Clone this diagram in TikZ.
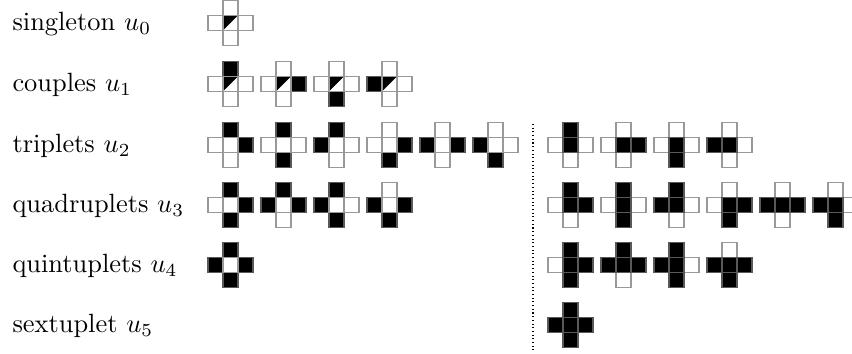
\documentclass[tikz,border=0pt]{standalone}
\usepackage{tikz}

\tikzset{
  cellw/.style={fill=white,draw=gray!80,line width=0.4pt},
  cellb/.style={fill=black,draw=gray!70!black,line width=0.4pt},
  cellh/.style={fill=white,draw=gray!80,line width=0.4pt,
    path picture={\fill[black] (path picture bounding box.north west) -- (path picture bounding box.north east) -- (path picture bounding box.south west) -- cycle;}},
  rowlabel/.style={anchor=base west,inner sep=0pt}
}

% one cross: x, y, centre, top, right, bottom, left  (w, b or h)
\newcommand{\crossat}[7]{%
  \begin{scope}[shift={(#1,#2)}]
    \draw[cell#4] (-7.5,-22.5) rectangle (7.5,-7.5);
    \draw[cell#5] (7.5,-7.5) rectangle (22.5,7.5);
    \draw[cell#6] (-7.5,7.5) rectangle (7.5,22.5);
    \draw[cell#7] (-22.5,-7.5) rectangle (-7.5,7.5);
    \draw[cell#3] (-7.5,-7.5) rectangle (7.5,7.5);
  \end{scope}}

\begin{document}
\begin{tikzpicture}[x=0.3788pt,y=-0.3788pt]
    \useasboundingbox (0,0) rectangle (852,354);

    % labels
    \node[rowlabel] (lsingle) at (12,31) {singleton $u_0$};
    \node[rowlabel] (lcouple) at (12,92) {couples $u_1$};
    \node[rowlabel] (ltriple) at (12,153) {triplets $u_2$};
    \node[rowlabel] (lquad) at (12,213) {quadruplets $u_3$};
    \node[rowlabel] (lquint) at (12,273) {quintuplets $u_4$};
    \node[rowlabel] (lsext) at (12,333) {sextuplet $u_5$};

    \draw[densely dotted] (533,124) -- (533,352);

    % singleton and couples
    \crossat{230.5}{23}{h}{w}{w}{w}{w}
    \foreach \t/\r/\b/\l [count=\i from 0] in {b/w/w/w,w/b/w/w,w/w/b/w,w/w/w/b}
      \crossat{230.5+53*\i}{84}{h}{\t}{\r}{\b}{\l};

    % triplets
    \foreach \t/\r/\b/\l [count=\i from 0] in {b/b/w/w,b/w/b/w,b/w/w/b,w/b/b/w,w/b/w/b,w/w/b/b}
      \crossat{230.5+53*\i}{145}{w}{\t}{\r}{\b}{\l};
    \foreach \t/\r/\b/\l [count=\i from 0] in {b/w/w/w,w/b/w/w,w/w/b/w,w/w/w/b}
      \crossat{570.5+53*\i}{145}{b}{\t}{\r}{\b}{\l};

    % quadruplets
    \foreach \t/\r/\b/\l [count=\i from 0] in {b/b/b/w,b/b/w/b,b/w/b/b,w/b/b/b}
      \crossat{230.5+53*\i}{205}{w}{\t}{\r}{\b}{\l};
    \foreach \t/\r/\b/\l [count=\i from 0] in {b/b/w/w,b/w/b/w,b/w/w/b,w/b/b/w,w/b/w/b,w/w/b/b}
      \crossat{570.5+53*\i}{205}{b}{\t}{\r}{\b}{\l};

    % quintuplets
    \crossat{230.5}{265}{w}{b}{b}{b}{b}
    \foreach \t/\r/\b/\l [count=\i from 0] in {b/b/b/w,b/b/w/b,b/w/b/b,w/b/b/b}
      \crossat{570.5+53*\i}{265}{b}{\t}{\r}{\b}{\l};

    % sextuplet
    \crossat{570.5}{325}{b}{b}{b}{b}{b}
\end{tikzpicture}
\end{document}
